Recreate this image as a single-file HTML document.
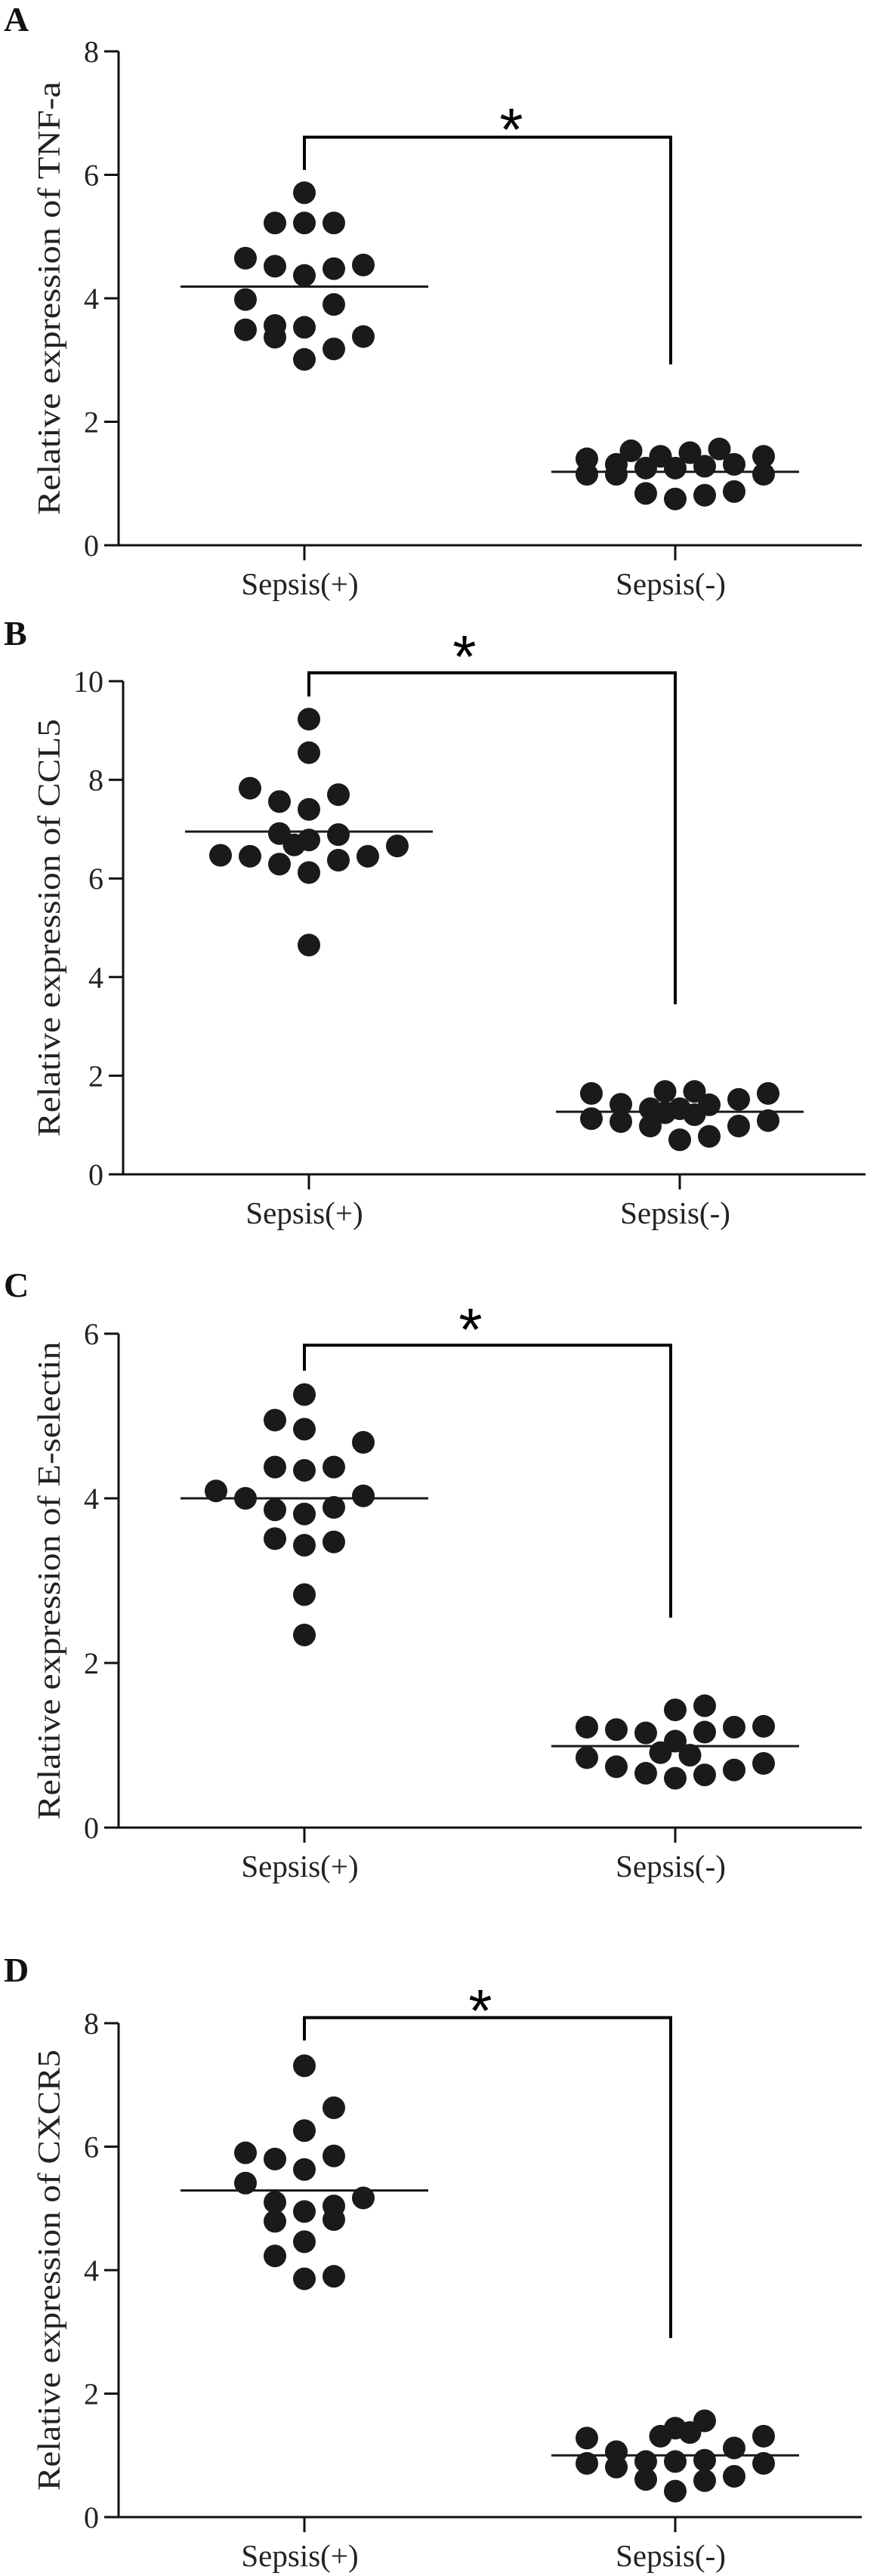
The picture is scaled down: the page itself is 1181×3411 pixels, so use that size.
<!DOCTYPE html>
<html><head><meta charset="utf-8"><style>
html,body{margin:0;padding:0;background:#fff;}
svg{display:block;}
</style></head><body>
<svg id="fig" width="1181" height="3411" viewBox="0 0 1181 3411" xmlns="http://www.w3.org/2000/svg"></svg>
<script>
// ---- data ----
const categories = ["Sepsis(+)", "Sepsis(-)"];
const panelLetters = ["A", "B", "C", "D"];
const yTitles = ["Relative expression of TNF-a", "Relative expression of CCL5", "Relative expression of E-selectin", "Relative expression of CXCR5"];
const yTicksA = [0, 2, 4, 6, 8];
const yTicksB = [0, 2, 4, 6, 8, 10];
const yTicksC = [0, 2, 4, 6];
const yTicksD = [0, 2, 4, 6, 8];

const tnfPos = [5.71, 5.22, 4.37, 3.53, 3.01, 5.22, 4.52, 3.56, 3.37, 5.22, 4.48, 3.90, 3.18, 4.65, 3.98, 3.49, 4.54, 3.38];
const tnfPosJit = [0, 0, 0, 0, 0, -1, -1, -1, -1, 1, 1, 1, 1, -2, -2, -2, 2, 2];
const tnfNeg = [1.40, 1.15, 1.31, 1.15, 1.53, 1.25, 0.84, 1.44, 1.25, 0.75, 1.50, 1.28, 0.81, 1.56, 1.31, 0.87, 1.44, 1.15];
const tnfNegJit = [-3, -3, -2, -2, -1.5, -1, -1, -0.5, 0, 0, 0.5, 1, 1, 1.5, 2, 2, 3, 3];
const tnfMeans = [4.19, 1.19];

const cclPos = [9.23, 8.55, 7.83, 7.56, 7.40, 7.70, 6.91, 6.68, 6.78, 6.89, 6.66, 6.47, 6.45, 6.29, 6.12, 6.37, 6.45, 4.65];
const cclPosJit = [0, 0, -2, -1, 0, 1, -1, -0.5, 0, 1, 3, -3, -2, -1, 0, 1, 2, 0];
const cclNeg = [1.64, 1.13, 1.42, 1.07, 1.33, 0.98, 1.68, 1.25, 1.33, 0.70, 1.68, 1.21, 1.41, 0.77, 1.52, 0.98, 1.64, 1.09];
const cclNegJit = [-3, -3, -2, -2, -1, -1, -0.5, -0.5, 0, 0, 0.5, 0.5, 1, 1, 2, 2, 3, 3];
const cclMeans = [6.95, 1.27];

const selPos = [5.26, 4.95, 4.84, 4.68, 4.38, 4.34, 4.38, 4.09, 4.00, 4.03, 3.86, 3.81, 3.89, 3.51, 3.43, 3.47, 2.83, 2.34];
const selPosJit = [0, -1, 0, 2, -1, 0, 1, -3, -2, 2, -1, 0, 1, -1, 0, 1, 0, 0];
const selNeg = [1.22, 0.85, 1.19, 0.74, 1.15, 0.66, 0.91, 1.43, 1.05, 0.60, 0.88, 1.48, 1.16, 0.64, 1.22, 0.70, 1.23, 0.78];
const selNegJit = [-3, -3, -2, -2, -1, -1, -0.5, 0, 0, 0, 0.5, 1, 1, 1, 2, 2, 3, 3];
const selMeans = [4.00, 0.99];

const cxcPos = [7.31, 6.63, 6.26, 5.90, 5.80, 5.85, 5.63, 5.41, 5.17, 5.10, 5.04, 4.95, 4.79, 4.82, 4.46, 4.23, 3.86, 3.90];
const cxcPosJit = [0, 1, 0, -2, -1, 1, 0, -2, 2, -1, 1, 0, -1, 1, 0, -1, 0, 1];
const cxcNeg = [1.28, 0.87, 1.06, 0.81, 0.90, 0.61, 1.31, 1.44, 0.90, 0.42, 1.37, 1.56, 0.92, 0.59, 1.12, 0.66, 1.31, 0.87];
const cxcNegJit = [-3, -3, -2, -2, -1, -1, -0.5, 0, 0, 0, 0.5, 1, 1, 1, 2, 2, 3, 3];
const cxcMeans = [5.29, 1.00];

// bracket values: [left bottom, top, right bottom]
const bracketA = [6.08, 6.61, 2.93];
const bracketB = [9.69, 10.17, 3.45];
const bracketC = [5.55, 5.86, 2.55];
const bracketD = [7.72, 8.09, 2.90];

// ---- layout ----
const NS = "http://www.w3.org/2000/svg";
const svg = document.getElementById("fig");
function mk(tag, attrs, parent) {
  const e = document.createElementNS(NS, tag);
  for (const k in attrs) e.setAttribute(k, attrs[k]);
  (parent || svg).appendChild(e);
  return e;
}
const layouts = [
  {ax: 157, y0: 722, yTop: 68, ymax: 8, xPos: 403, xNeg: 894, xEnd: 1141, labelY: 25, titleLen: 574, star: [677, 153]},
  {ax: 163, y0: 1555, yTop: 902, ymax: 10, xPos: 409, xNeg: 900, xEnd: 1146, labelY: 838, titleLen: 553, star: [615, 851]},
  {ax: 157, y0: 2420, yTop: 1766, ymax: 6, xPos: 403, xNeg: 894, xEnd: 1141, labelY: 1701, titleLen: 633, star: [623, 1742]},
  {ax: 157, y0: 3333, yTop: 2679, ymax: 8, xPos: 403, xNeg: 894, xEnd: 1141, labelY: 2608, titleLen: 584, star: [636, 2644]}
];
const panelTicks = [yTicksA, yTicksB, yTicksC, yTicksD];
const panelData = [
  [tnfPos, tnfPosJit, tnfNeg, tnfNegJit, tnfMeans, bracketA],
  [cclPos, cclPosJit, cclNeg, cclNegJit, cclMeans, bracketB],
  [selPos, selPosJit, selNeg, selNegJit, selMeans, bracketC],
  [cxcPos, cxcPosJit, cxcNeg, cxcNegJit, cxcMeans, bracketD]
];
const names = ["tnf-a", "ccl5", "e-selectin", "cxcr5"];
const STEP = 39, R = 15, HALF = 164;
const serif = '"Liberation Serif", serif';

panelData.forEach((pd, i) => {
  const L = layouts[i];
  const g = mk("g", {});
  
  
  const y = v => L.y0 - (v / L.ymax) * (L.y0 - L.yTop);
  const xc = [L.xPos, L.xNeg];

  const lab = mk("text", {x: 5, y: L.labelY + 16, "font-family": serif, "font-size": 46, "font-weight": "bold", fill: "#111"}, g);
  lab.textContent = panelLetters[i];
  
  

  const ya = mk("line", {x1: L.ax, y1: L.yTop, x2: L.ax, y2: L.y0, stroke: "#111", "stroke-width": 3}, g);
  
  
  const xa = mk("line", {x1: L.ax - 19, y1: L.y0, x2: L.xEnd, y2: L.y0, stroke: "#111", "stroke-width": 3}, g);
  
  

  panelTicks[i].forEach(t => {
    const tk = mk("line", {x1: L.ax - 19, y1: y(t), x2: L.ax, y2: y(t), stroke: "#111", "stroke-width": 3}, g);
    
    
    const tl = mk("text", {x: L.ax - 26, y: y(t) + 14, "text-anchor": "end", "font-family": serif, "font-size": 40, fill: "#222"}, g);
    tl.textContent = t;
    
    
  });

  const ymid = (L.y0 + L.yTop) / 2;
  const tt = mk("text", {x: 0, y: 0, transform: `translate(79 ${ymid}) rotate(-90)`, "text-anchor": "middle", "font-family": serif, "font-size": 42, fill: "#222", textLength: L.titleLen, lengthAdjust: "spacingAndGlyphs"}, g);
  tt.textContent = yTitles[i];
  
  

  categories.forEach((c, k) => {
    const tk = mk("line", {x1: xc[k], y1: L.y0, x2: xc[k], y2: L.y0 + 20, stroke: "#111", "stroke-width": 3}, g);
    
    
    const cl = mk("text", {x: xc[k] - 6, y: L.y0 + 65, "text-anchor": "middle", "font-family": serif, "font-size": 41, fill: "#222"}, g);
    cl.textContent = c;
    
    
  });

  const [pos, posJ, neg, negJ, means, br] = pd;
  [[pos, posJ, 0], [neg, negJ, 1]].forEach(([vals, jit, k]) => {
    vals.forEach((v, j) => {
      const c = mk("circle", {cx: xc[k] + jit[j] * STEP, cy: y(v), r: R, fill: "#1a1a1a"}, g);
      
      
    });
    const m = mk("line", {x1: xc[k] - HALF, y1: y(means[k]), x2: xc[k] + HALF, y2: y(means[k]), stroke: "#1a1a1a", "stroke-width": 3}, g);
    
    
  });

  const bx2 = xc[1] - 6;
  const bp = mk("polyline", {points: `${xc[0]},${y(br[0])} ${xc[0]},${y(br[1])} ${bx2},${y(br[1])} ${bx2},${y(br[2])}`, fill: "none", stroke: "#000", "stroke-width": 4}, g);
  
  
  const st = mk("text", {x: L.star[0], y: L.star[1] + 46, "text-anchor": "middle", "font-family": '"Liberation Sans", sans-serif', "font-size": 80, fill: "#000"}, g);
  st.textContent = "*";
  
  
});
</script>
</body></html>
